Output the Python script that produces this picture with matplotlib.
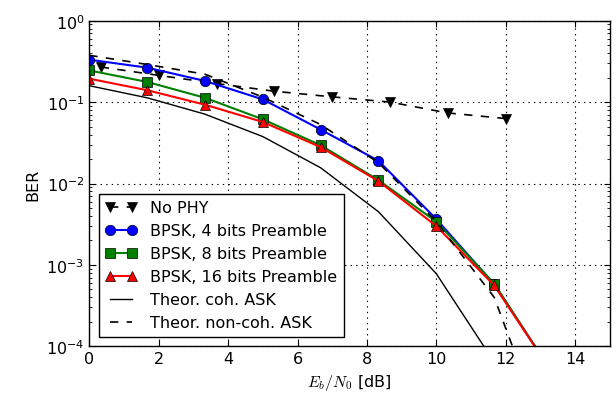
import numpy as np
import matplotlib
matplotlib.use('Agg')
import matplotlib.pyplot as plt

# -------------------------------
# BER vs Eb/N0
# -------------------------------

snr_nophy = [0.33, 2.0, 3.67, 5.33, 7.0, 8.67, 10.33, 12.0]
ber_nophy = [0.27, 0.213, 0.169, 0.136, 0.116, 0.100, 0.0736, 0.0628]

snr_bpsk = [0, 1.667, 3.333, 5.0, 6.667, 8.333, 10.0, 11.667, 13.333]
ber_4 = [0.332, 0.265, 0.182, 0.108, 0.046, 0.019, 0.00365, 5.8e-4, 4.8e-5]
ber_8 = [0.245, 0.177, 0.113, 0.0615, 0.0295, 0.011, 0.0034, 5.9e-4, 4.8e-5]
ber_16 = [0.194, 0.14, 0.093, 0.057, 0.028, 0.0107, 0.0030, 5.6e-4, 4.8e-5]

snr_theor = [0, 1.667, 3.333, 5.0, 6.667, 8.333, 10.0, 11.667, 13.333]
ber_coh = [0.159, 0.113, 0.0711, 0.0377, 0.0156, 0.0045, 7.8e-4, 6.4e-5, 3e-6]
ber_noncoh = [0.376, 0.29, 0.22, 0.115, 0.053, 0.018, 0.0034, 4e-4, 5e-6]

plt.rcParams['font.family'] = 'DejaVu Sans'
plt.rcParams['mathtext.fontset'] = 'cm'
plt.rcParams['font.size'] = 11.5
plt.rcParams['xtick.direction'] = 'in'
plt.rcParams['ytick.direction'] = 'in'
plt.rcParams['lines.scale_dashes'] = False
plt.rcParams['lines.dashed_pattern'] = [6, 6]

fig = plt.figure(figsize=(6.16, 4.02), dpi=100)
ax = fig.add_axes([0.145, 0.136, 0.845, 0.810])

ms = 7.5
mew = 0.5
ax.semilogy(snr_nophy, ber_nophy, 'k--v', lw=1.2, ms=ms, mew=mew, label='No PHY')
ax.semilogy(snr_bpsk, ber_4, 'b-o', ms=ms, mew=mew, mec='k', label='BPSK, 4 bits Preamble')
ax.semilogy(snr_bpsk, ber_8, 'g-s', ms=ms, mew=mew, mec='k', color=(0, 0.5, 0), mfc=(0, 0.5, 0),
            label='BPSK, 8 bits Preamble')
ax.semilogy(snr_bpsk, ber_16, 'r-^', ms=ms, mew=mew, mec='k', label='BPSK, 16 bits Preamble')
ax.semilogy(snr_theor, ber_coh, 'k-', lw=1.0, label='Theor. coh. ASK')
ax.semilogy(snr_theor, ber_noncoh, 'k--', lw=1.2, label='Theor. non-coh. ASK')

ax.set_xlim(0, 15)
ax.set_ylim(1e-4, 1)
ax.set_xticks([0, 2, 4, 6, 8, 10, 12, 14])
ax.grid(True, which='major', color='k', linestyle=(0, (1, 3)), linewidth=0.8)
ax.tick_params(which='both', top=True, right=True)
ax.tick_params(which='major', length=4)
ax.tick_params(which='minor', length=2)
for s in ax.spines.values():
    s.set_linewidth(1.0)

ax.set_xlabel(r'$E_b/N_0$ [dB]')
ax.set_ylabel('BER')

leg = ax.legend(loc='lower left', numpoints=2, fancybox=False, framealpha=1,
                edgecolor='k', fontsize=11.5, borderaxespad=0.6)
leg.get_frame().set_linewidth(1.0)

fig.savefig('out.png', dpi=100)
